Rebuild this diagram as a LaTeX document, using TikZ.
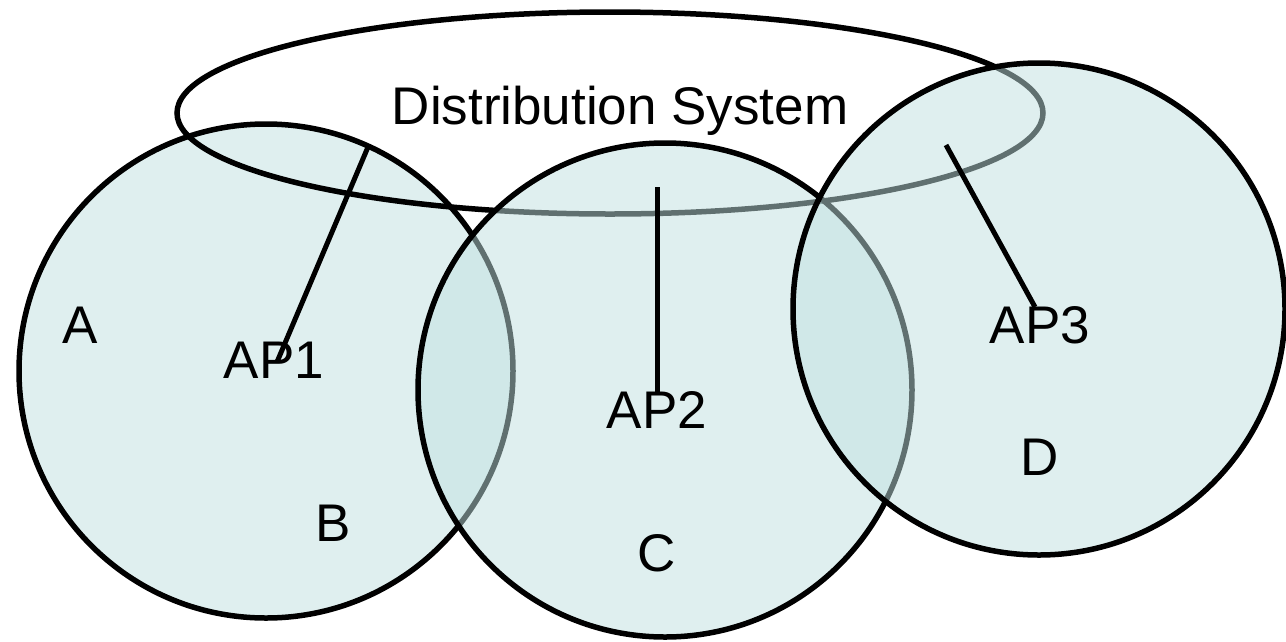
\documentclass[tikz,border=0pt]{standalone}
\usepackage{fontspec}
\setmainfont{Liberation Sans}
\begin{document}
\begin{tikzpicture}[x=1pt,y=-1pt,
  cell/.style={draw=black,line width=5.5pt,fill={rgb,255:red,192;green,224;blue,224},fill opacity=0.5},
  ring/.style={draw=black,line width=5.5pt},
  link/.style={draw=black,line width=5pt},
  lbl/.style={font=\fontsize{53}{60}\selectfont,anchor=base,inner sep=0pt}]
\useasboundingbox (0,0) rectangle (1286,641);
% left cell
\path[cell] (266,371) circle[radius=247];
% distribution system
\path[ring] (610,113) ellipse[x radius=433,y radius=101];
% middle and right cells
\path[cell] (665,390) circle[radius=247];
\path[cell] (1039,309) circle[radius=246];
% connectors
\coordinate (ds1) at (368,147);
\coordinate (ap1) at (277,362);
\coordinate (ds2) at (657,187);
\coordinate (ap2) at (657,395);
\coordinate (ds3) at (946,145);
\coordinate (ap3) at (1035,307);
\draw[link] (ds1) -- (ap1);
\draw[link] (ds2) -- (ap2);
\draw[link] (ds3) -- (ap3);
% labels
\node[lbl] (ds) at (620,124) {Distribution System};
\node[lbl] (a) at (80,343) {A};
\node[lbl] (t1) at (274,378) {AP1};
\node[lbl] (t2) at (657,428) {AP2};
\node[lbl] (t3) at (1040,343) {AP3};
\node[lbl] (b) at (333,541) {B};
\node[lbl] (c) at (657,571) {C};
\node[lbl] (d) at (1040,475) {D};
\end{tikzpicture}
\end{document}
